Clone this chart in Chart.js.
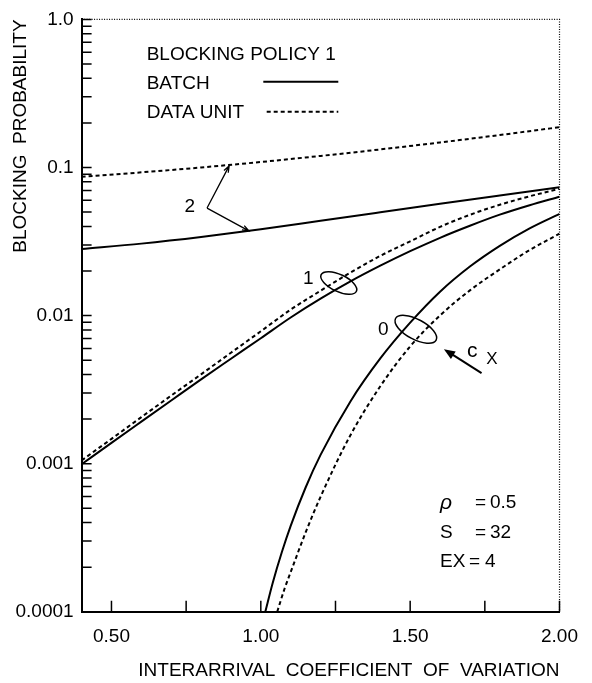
<!DOCTYPE html>
<html>
<head>
<meta charset="utf-8">
<script src="https://cdn.jsdelivr.net/npm/chart.js@4.4.1/dist/chart.umd.min.js"></script>
<style>
  html, body { margin: 0; padding: 0; background: #fff; }
  #wrap { width: 592px; height: 683px; }
</style>
</head>
<body>
<div id="wrap"><canvas id="chart" width="592" height="683"></canvas></div>
<script>
// values (x = interarrival coefficient of variation)
const xMain = [0.4, 0.5, 0.6, 0.7, 0.8, 0.9, 1.0, 1.1, 1.2, 1.3, 1.4, 1.5, 1.6, 1.7, 1.8, 1.9, 2.0];
const batch1 = [0.00099, 0.00138, 0.00192, 0.00267, 0.00371, 0.00511, 0.00703, 0.0097, 0.0130, 0.0170, 0.0217, 0.0272, 0.0335, 0.0404, 0.0480, 0.0556, 0.0635];
const unit1 = [0.00105, 0.00147, 0.00206, 0.00288, 0.00401, 0.00561, 0.00783, 0.01097, 0.0147, 0.0195, 0.0253, 0.0317, 0.0397, 0.0479, 0.0560, 0.0639, 0.0718];

const xTwo = [0.4, 0.6, 0.8, 1.0, 1.2, 1.4, 1.6, 1.8, 2.0];
const batch2 = [0.0282, 0.0306, 0.0339, 0.0382, 0.0436, 0.0498, 0.0569, 0.0647, 0.0734];
const unit2 = [0.0865, 0.0927, 0.1000, 0.1089, 0.1197, 0.1324, 0.1476, 0.1656, 0.1871];

const xBatch0 = [1.015, 1.04, 1.07, 1.1, 1.15, 1.2, 1.3, 1.4, 1.5, 1.6, 1.7, 1.8, 1.9, 2.0];
const batch0 = [0.0001, 0.000157, 0.000251, 0.00038, 0.00069, 0.001146, 0.00263, 0.00513, 0.00895, 0.01449, 0.02143, 0.02958, 0.03882, 0.04864];
const xUnit0 = [1.055, 1.08, 1.1, 1.15, 1.2, 1.3, 1.4, 1.5, 1.6, 1.7, 1.8, 1.9, 2.0];
const unit0 = [0.0001, 0.000144, 0.000185, 0.000343, 0.000597, 0.001556, 0.00333, 0.00619, 0.01002, 0.01479, 0.0205, 0.0277, 0.0357];

const xTickValues = [0.5, 0.75, 1.0, 1.25, 1.5, 1.75, 2.0];
const xTickLabels = ['0.50', '', '1.00', '', '1.50', '', '2.00'];
const yTickValues = [0.0001, 0.001, 0.01, 0.1, 1];
const yTickLabels = ['0.0001', '0.001', '0.01', '0.1', '1.0'];

const FONT = '"Liberation Sans", Arial, Helvetica, sans-serif';
const DASH = [4, 3];

const pts = (xs, ys) => xs.map((x, i) => ({ x: x, y: ys[i] }));

function curve(data, dashed) {
  return {
    data: data,
    borderColor: '#000',
    borderWidth: 2,
    borderDash: dashed ? DASH : [],
    pointRadius: 0,
    fill: false,
    cubicInterpolationMode: 'monotone'
  };
}

// annotation anchors in data coordinates
const notes = {
  label2: [0.762, 0.0541],
  arrow2From: [0.82, 0.0532],
  arrow2To: [[0.894, 0.1026], [0.960, 0.0373]],
  label1: [1.159, 0.0176],
  ring1: [1.261, 0.0166],
  label0: [1.41, 0.00807],
  ring0: [1.519, 0.00807],
  cxFrom: [1.739, 0.00408],
  cxTo: [1.613, 0.00593],
  cxC: [1.708, 0.00573],
  cxX: [1.774, 0.00506]
};

const decor = {
  id: 'decor',
  afterDraw(chart) {
    const ctx = chart.ctx;
    const xs = chart.scales.x, ys = chart.scales.y;
    const a = chart.chartArea;
    const P = (p) => [xs.getPixelForValue(p[0]), ys.getPixelForValue(p[1])];
    ctx.save();
    ctx.strokeStyle = '#000';
    ctx.fillStyle = '#000';

    // dotted top and right frame
    ctx.lineWidth = 1.2;
    ctx.setLineDash([1, 1.5]);
    ctx.beginPath();
    ctx.moveTo(a.left, a.top);
    ctx.lineTo(a.right, a.top);
    ctx.lineTo(a.right, a.bottom);
    ctx.stroke();
    ctx.setLineDash([]);

    // inward tick marks
    ctx.lineWidth = 1.5;
    ctx.beginPath();
    xs.ticks.forEach(t => {
      const x = xs.getPixelForValue(t.value);
      ctx.moveTo(x, a.bottom);
      ctx.lineTo(x, a.bottom - 11);
    });
    for (let d = 0.0001; d < 0.5; d *= 10) {
      for (let m = 1; m <= 9; m++) {
        const y = ys.getPixelForValue(m * d);
        ctx.moveTo(a.left, y);
        ctx.lineTo(a.left + 10, y);
      }
    }
    const yTop = ys.getPixelForValue(1);
    ctx.moveTo(a.left, yTop);
    ctx.lineTo(a.left + 10, yTop);
    ctx.stroke();

    // legend block
    ctx.font = '19px ' + FONT;
    ctx.textBaseline = 'middle';
    ctx.textAlign = 'left';
    ctx.fillText('BLOCKING POLICY 1', 146.7, 55);
    ctx.fillText('BATCH', 146.7, 83.3);
    ctx.fillText('DATA UNIT', 146.7, 112.7);
    ctx.lineWidth = 2;
    ctx.beginPath();
    ctx.moveTo(263.3, 81.7);
    ctx.lineTo(338.3, 81.7);
    ctx.stroke();
    ctx.setLineDash(DASH);
    ctx.beginPath();
    ctx.moveTo(266.7, 111.7);
    ctx.lineTo(338.3, 111.7);
    ctx.stroke();
    ctx.setLineDash([]);

    // curve labels
    ctx.textAlign = 'center';
    let p = P(notes.label2); ctx.fillText('2', p[0], p[1]);
    p = P(notes.label1); ctx.fillText('1', p[0], p[1]);
    p = P(notes.label0); ctx.fillText('0', p[0], p[1]);

    // arrows from "2"
    ctx.lineWidth = 1.3;
    const o = P(notes.arrow2From);
    notes.arrow2To.forEach(t => {
      const e = P(t);
      const ang = Math.atan2(e[1] - o[1], e[0] - o[0]);
      ctx.beginPath();
      ctx.moveTo(o[0], o[1]);
      ctx.lineTo(e[0], e[1]);
      ctx.moveTo(e[0] - 7 * Math.cos(ang - 0.35), e[1] - 7 * Math.sin(ang - 0.35));
      ctx.lineTo(e[0], e[1]);
      ctx.lineTo(e[0] - 7 * Math.cos(ang + 0.35), e[1] - 7 * Math.sin(ang + 0.35));
      ctx.stroke();
    });

    // rings around the curve pairs
    ctx.lineWidth = 1.5;
    p = P(notes.ring1);
    ctx.beginPath(); ctx.ellipse(p[0], p[1], 19.5, 8.5, 0.44, 0, Math.PI * 2); ctx.stroke();
    p = P(notes.ring0);
    ctx.beginPath(); ctx.ellipse(p[0], p[1], 23, 10, 0.49, 0, Math.PI * 2); ctx.stroke();

    // c_X arrow
    const f = P(notes.cxFrom), h = P(notes.cxTo);
    const ang = Math.atan2(h[1] - f[1], h[0] - f[0]);
    ctx.lineWidth = 2;
    ctx.beginPath();
    ctx.moveTo(f[0], f[1]);
    ctx.lineTo(h[0] - 6 * Math.cos(ang), h[1] - 6 * Math.sin(ang));
    ctx.stroke();
    ctx.beginPath();
    ctx.moveTo(h[0], h[1]);
    ctx.lineTo(h[0] - 12 * Math.cos(ang - 0.38), h[1] - 12 * Math.sin(ang - 0.38));
    ctx.lineTo(h[0] - 12 * Math.cos(ang + 0.38), h[1] - 12 * Math.sin(ang + 0.38));
    ctx.closePath();
    ctx.fill();
    ctx.font = '21px ' + FONT;
    p = P(notes.cxC); ctx.fillText('c', p[0], p[1]);
    ctx.font = '17px ' + FONT;
    p = P(notes.cxX); ctx.fillText('X', p[0], p[1]);

    // parameter block
    ctx.textAlign = 'left';
    ctx.font = 'italic 21px ' + FONT;
    ctx.fillText('ρ', 440, 503);
    ctx.font = '19px ' + FONT;
    ctx.fillText('=', 475, 503);
    ctx.fillText('0.5', 490, 503);
    ctx.fillText('S', 440, 533);
    ctx.fillText('=', 475, 533);
    ctx.fillText('32', 490, 533);
    ctx.fillText('EX', 440, 562);
    ctx.fillText('=', 469, 562);
    ctx.fillText('4', 485, 562);
    ctx.restore();
  }
};

Chart.defaults.font.family = FONT;
Chart.defaults.font.size = 19;
Chart.defaults.color = '#000';

new Chart(document.getElementById('chart'), {
  type: 'line',
  data: {
    datasets: [
      curve(pts(xTwo, unit2), true),
      curve(pts(xTwo, batch2), false),
      curve(pts(xMain, unit1), true),
      curve(pts(xMain, batch1), false),
      curve(pts(xUnit0, unit0), true),
      curve(pts(xBatch0, batch0), false)
    ]
  },
  options: {
    responsive: false,
    animation: false,
    devicePixelRatio: 1,
    layout: { padding: { top: 14, right: 24.3, bottom: 0, left: 0 } },
    plugins: { legend: { display: false }, tooltip: { enabled: false } },
    scales: {
      x: {
        type: 'linear',
        min: 0.4,
        max: 2.0,
        grid: { display: false, drawTicks: false },
        border: { display: true, color: '#000', width: 2 },
        afterBuildTicks: s => { s.ticks = xTickValues.map(v => ({ value: v })); },
        afterFit: s => { s.height = 71.3; },
        ticks: {
          autoSkip: false,
          maxRotation: 0,
          padding: 14,
          callback: (v, i) => xTickLabels[i]
        },
        title: {
          display: true,
          text: 'INTERARRIVAL  COEFFICIENT  OF  VARIATION',
          align: 'end',
          padding: { top: 0, bottom: 0.6 },
          font: { size: 19 }
        }
      },
      y: {
        type: 'logarithmic',
        min: 0.0001,
        max: 1,
        grid: { display: false, drawTicks: false },
        border: { display: true, color: '#000', width: 2 },
        afterBuildTicks: s => { s.ticks = yTickValues.map(v => ({ value: v })); },
        afterFit: s => { s.width = 81.6; },
        ticks: {
          autoSkip: false,
          padding: 8,
          callback: (v, i) => yTickLabels[i]
        },
        title: {
          display: true,
          text: 'BLOCKING  PROBABILITY',
          align: 'end',
          padding: { top: 9.6, bottom: 0 },
          font: { size: 19 }
        }
      }
    }
  },
  plugins: [decor]
});
</script>
</body>
</html>
